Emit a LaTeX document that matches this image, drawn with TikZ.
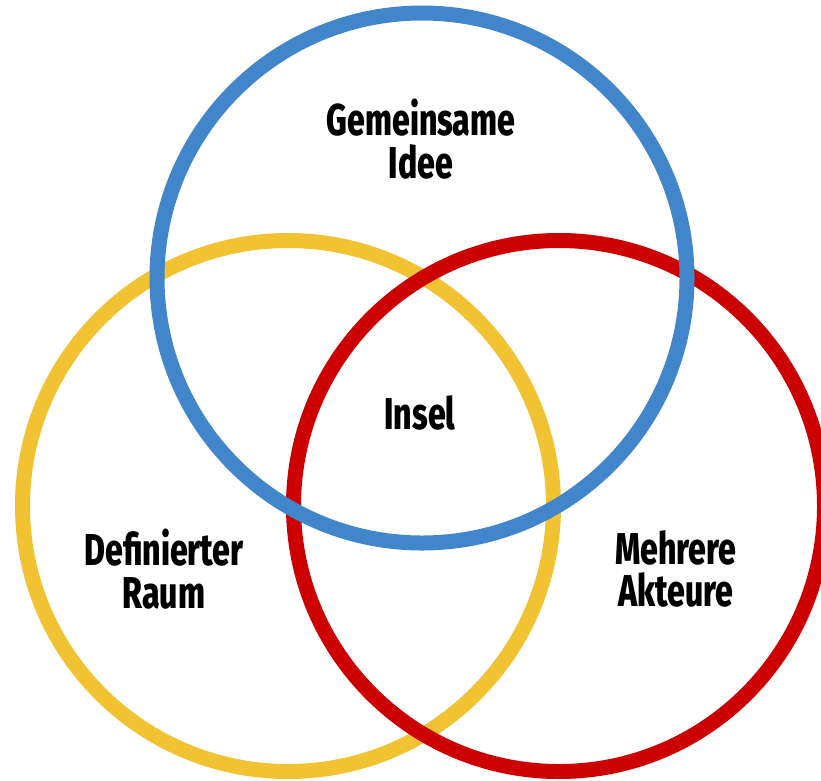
\documentclass[tikz,border=0pt]{standalone}
\usepackage{fontspec}
\newfontfamily\labelfont[FakeStretch=0.72]{Fira Sans ExtraBold}
\definecolor{ringblue}{RGB}{65,134,202}
\definecolor{ringyellow}{RGB}{241,194,50}
\definecolor{ringred}{RGB}{204,0,0}

\begin{document}
\begin{tikzpicture}[x=0.03cm, y=-0.03cm,
  ring/.style = {line width=15*0.03cm},
  every node/.style = {font=\labelfont\fontsize{38}{36.5}\selectfont, align=center, text=black}]
  \useasboundingbox (0,0) rectangle (821,780);
  \clip (0,0) rectangle (821,780);
  % yellow below, red over it, blue on top
  \draw[ring, ringyellow] (288,506) circle (265.5);
  \draw[ring, ringred] (559,506) circle (265.5);
  \draw[ring, ringblue] (422,278) circle (265);
  \node (idee) at (421,139) {Gemeinsame\\Idee};
  \node (insel) at (420,413) {Insel};
  \node (raum) at (164,569) {Definierter\\Raum};
  \node (akteure) at (676,569) {Mehrere\\Akteure};
\end{tikzpicture}
\end{document}
